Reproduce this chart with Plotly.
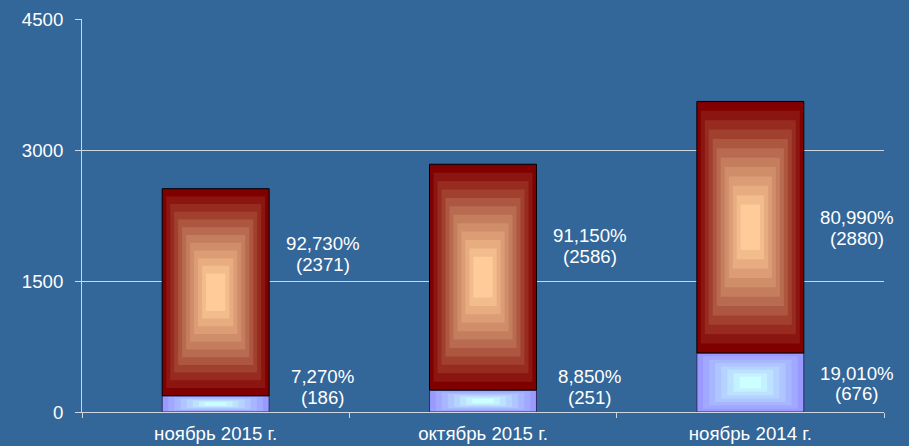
import plotly.graph_objects as go

# ---- data ----
categories = ["ноябрь 2015 г.", "октябрь 2015 г.", "ноябрь 2014 г."]
bottom_values = [186, 251, 676]
top_values = [2371, 2586, 2880]
bottom_pct = ["7,270%", "8,850%", "19,010%"]
top_pct = ["92,730%", "91,150%", "80,990%"]
y_ticks = [0, 1500, 3000, 4500]

# ---- style ----
BG = "#336699"
GRID = "#CDD5E1"
FONT = "Liberation Sans, Arial, sans-serif"
FS = 18.67
BAR_W = 0.4
LABEL_DX = 0.4
LINE_GAP = 10.3
top_label_shift = [38.5, 31, -1]
bottom_label_shift = [16.7, 13.8, -1]

# gradient settings: (colour stops outer->centre, number of bands, final inset, edge colour)
TOP_GRAD = ([(128, 0, 0), (190, 118, 88), (255, 204, 153)], 12, 0.82, "#000000")
BOT_GRAD = ([(153, 153, 255), (178, 204, 255), (204, 255, 255)], 8, 0.80, "#2E2E66")


def interp(stops, f):
    seg = min(int(f * (len(stops) - 1)), len(stops) - 2)
    local = f * (len(stops) - 1) - seg
    c1, c2 = stops[seg], stops[seg + 1]
    return "rgb(%d,%d,%d)" % tuple(round(a + (b - a) * local) for a, b in zip(c1, c2))


fig = go.Figure()

segments = [
    (bottom_values, [0] * len(bottom_values), BOT_GRAD),
    (top_values, bottom_values, TOP_GRAD),
]

for heights, bases, (stops, n, tmax, edge) in segments:
    for k in range(n):
        f = k / (n - 1)
        t = tmax * f
        fig.add_trace(go.Bar(
            x=categories,
            y=[h * (1 - t) for h in heights],
            base=[b + h * t / 2 for h, b in zip(heights, bases)],
            width=BAR_W * (1 - t),
            marker=dict(color=interp(stops, f),
                        line=dict(color=edge, width=1 if k == 0 else 0)),
            showlegend=False,
            hoverinfo="skip",
        ))

annotations = []
for i in range(len(categories)):
    mid_top = bottom_values[i] + top_values[i] / 2
    mid_bot = bottom_values[i] / 2
    for mid, shift, pct, val in [
        (mid_top, top_label_shift[i], top_pct[i], top_values[i]),
        (mid_bot, bottom_label_shift[i], bottom_pct[i], bottom_values[i]),
    ]:
        for txt, dy in [(pct, LINE_GAP), ("(%d)" % val, -LINE_GAP)]:
            annotations.append(dict(
                x=i + LABEL_DX, y=mid, xref="x", yref="y",
                text=txt, showarrow=False, xanchor="center", yanchor="middle",
                yshift=shift + dy, font=dict(family=FONT, size=FS, color="white"),
            ))

fig.update_layout(
    width=909, height=446,
    margin=dict(l=82, r=25, t=19, b=34),
    paper_bgcolor=BG, plot_bgcolor=BG,
    barmode="overlay",
    font=dict(family=FONT, size=FS, color="white"),
    annotations=annotations,
    xaxis=dict(
        type="category", range=[-0.5, 2.5], automargin=False,
        showline=True, linecolor=GRID, linewidth=1,
        ticks="outside", tickson="boundaries", ticklen=5, tickcolor=GRID,
        ticklabelstandoff=5,
        showgrid=False, tickfont=dict(family=FONT, size=FS, color="white"),
    ),
    yaxis=dict(
        range=[0, 4500], tickvals=y_ticks, ticktext=[str(v) for v in y_ticks],
        automargin=False,
        showline=True, linecolor=GRID, linewidth=1,
        ticks="outside", ticklen=6, tickcolor=GRID,
        ticklabelstandoff=8,
        showgrid=True, gridcolor=GRID, gridwidth=1, zeroline=False,
        tickfont=dict(family=FONT, size=FS, color="white"),
    ),
)

fig.write_html(
    "out.html",
    config={"displayModeBar": False},
    post_script="document.body.style.margin='0';document.body.style.background='%s';" % BG,
)
